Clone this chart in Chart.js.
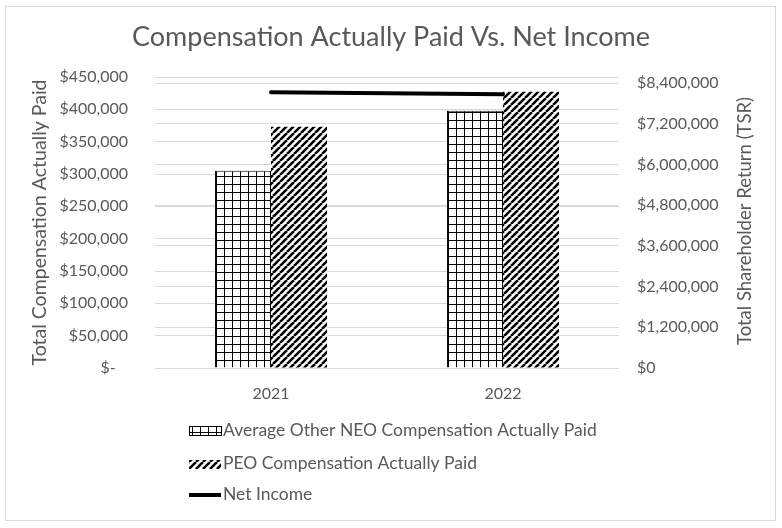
<!DOCTYPE html>
<html>
<head>
<meta charset="utf-8">
<script src="https://cdn.jsdelivr.net/npm/chart.js@4/dist/chart.umd.min.js"></script>
<style>
  html, body { margin: 0; padding: 0; background: #fff; }
  canvas { display: block; }
</style>
</head>
<body>
<canvas id="c" width="782" height="528"></canvas>
<script>
// ---- data ----
const categories = ['2021', '2022'];
const neoValues = [305000, 398000];        // Average Other NEO Compensation Actually Paid
const peoValues = [373000, 427000];        // PEO Compensation Actually Paid
const netIncomeValues = [8130000, 8070000]; // Net Income (right axis)
const leftTicks = [0, 50000, 100000, 150000, 200000, 250000, 300000, 350000, 400000, 450000];
const rightTicks = [0, 1200000, 2400000, 3600000, 4800000, 6000000, 7200000, 8400000];
const seriesLabels = ['Average Other NEO Compensation Actually Paid', 'PEO Compensation Actually Paid', 'Net Income'];

const FONT = 'Lato';
const TXT = '#595959';
const GRID = '#d9d9d9';

function makeGridPattern() {
  const c = document.createElement('canvas'); c.width = 8; c.height = 8;
  const g = c.getContext('2d');
  g.fillStyle = '#fff'; g.fillRect(0, 0, 8, 8);
  g.fillStyle = '#000'; g.fillRect(0, 0, 8, 1); g.fillRect(0, 0, 1, 8);
  return g.createPattern(c, 'repeat');
}
function makeHatchPattern() {
  const c = document.createElement('canvas'); c.width = 7; c.height = 7;
  const g = c.getContext('2d');
  g.fillStyle = '#fff'; g.fillRect(0, 0, 7, 7);
  g.strokeStyle = '#000'; g.lineWidth = 2.6;
  g.beginPath();
  for (let k = -14; k <= 14; k += 7) { g.moveTo(k, 7); g.lineTo(k + 7, 0); }
  g.stroke();
  return g.createPattern(c, 'repeat');
}
const gridPat = makeGridPattern();
const hatchPat = makeHatchPattern();

function fmtLeft(v) { return v === 0 ? '$-   ' : '$' + v.toLocaleString('en-US'); }
function fmtRight(v) { return '$' + v.toLocaleString('en-US'); }

const frame = {
  id: 'frame',
  beforeDraw(chart) {
    const ctx = chart.ctx;
    ctx.save();
    ctx.fillStyle = '#fff'; ctx.fillRect(0, 0, chart.width, chart.height);
    ctx.strokeStyle = GRID; ctx.lineWidth = 1;
    ctx.strokeRect(5.5, 6.5, 770, 514);
    ctx.restore();
  }
};

const extras = {
  id: 'extras',
  afterDraw(chart) {
    const ctx = chart.ctx;
    ctx.save();
    // right axis title (reads bottom-to-top)
    ctx.translate(745, 221);
    ctx.rotate(-Math.PI / 2);
    ctx.fillStyle = TXT;
    ctx.font = '18.5px ' + FONT;
    ctx.textAlign = 'center'; ctx.textBaseline = 'middle';
    ctx.fillText('Total Shareholder Return (TSR)', 0, 0);
    ctx.restore();

    // legend
    const ds = chart.data.datasets;
    const baselines = [436, 469, 500];
    const sx = 189, sw = 32, tx = 223;
    ctx.save();
    ctx.font = '17.5px ' + FONT;
    ctx.textBaseline = 'alphabetic';
    ds.forEach((d, i) => {
      const b = baselines[i];
      if (d.type === 'line') {
        ctx.strokeStyle = '#000'; ctx.lineWidth = 4; ctx.lineCap = 'butt';
        ctx.beginPath(); ctx.moveTo(sx, b - 5); ctx.lineTo(sx + sw, b - 5); ctx.stroke();
      } else {
        ctx.fillStyle = d.backgroundColor;
        ctx.fillRect(sx, b - 9, sw, 9);
        if (d.borderWidth) {
          ctx.strokeStyle = '#000'; ctx.lineWidth = 1;
          ctx.strokeRect(sx + 0.5, b - 9.5, sw, 9);
        }
      }
      ctx.fillStyle = TXT;
      ctx.fillText(d.label, tx, b);
    });
    ctx.restore();
  }
};

new Chart(document.getElementById('c'), {
  type: 'bar',
  data: {
    labels: categories,
    datasets: [
      { type: 'bar', label: seriesLabels[0], data: neoValues, yAxisID: 'y',
        backgroundColor: gridPat, borderColor: '#000', borderWidth: 1, order: 1 },
      { type: 'bar', label: seriesLabels[1], data: peoValues, yAxisID: 'y',
        backgroundColor: hatchPat, borderWidth: 0, order: 1 },
      { type: 'line', label: seriesLabels[2], data: netIncomeValues, yAxisID: 'y1',
        borderColor: '#000', backgroundColor: '#000', borderWidth: 4, pointRadius: 0,
        borderCapStyle: 'round', tension: 0, order: 0 }
    ]
  },
  options: {
    responsive: false,
    animation: false,
    devicePixelRatio: 1,
    layout: { padding: { left: 0, right: 0, top: 0, bottom: 0 } },
    datasets: { bar: { categoryPercentage: 0.483, barPercentage: 1 } },
    plugins: {
      legend: { display: false },
      tooltip: { enabled: false },
      title: {
        display: true,
        text: 'Compensation Actually Paid Vs. Net Income',
        color: TXT,
        font: { family: FONT, size: 27, weight: 'normal', lineHeight: 1.2 },
        padding: { top: 21, bottom: 23.6 }
      }
    },
    scales: {
      x: {
        grid: { display: false, drawTicks: false },
        border: { display: false },
        ticks: { color: TXT, font: { family: FONT, size: 16 }, padding: 16 },
        afterFit(s) { s.height = 160; }
      },
      y: {
        position: 'left',
        min: 0, max: 450000,
        afterBuildTicks(s) { s.ticks = leftTicks.map(v => ({ value: v })); },
        grid: { color: GRID, drawTicks: false },
        border: { display: false },
        ticks: { color: TXT, font: { family: FONT, size: 16 }, padding: 27, callback: v => fmtLeft(v) },
        title: { display: true, text: 'Total Compensation Actually Paid', color: TXT,
          font: { family: FONT, size: 19.5 }, padding: { top: 28, bottom: 0 } },
        afterFit(s) { s.width = 155; }
      },
      y1: {
        position: 'right',
        min: 0, max: 8577000,
        afterBuildTicks(s) { s.ticks = rightTicks.map(v => ({ value: v })); },
        grid: { color: GRID, drawTicks: false, drawOnChartArea: true },
        border: { display: false },
        ticks: { color: TXT, font: { family: FONT, size: 16 }, padding: 18, callback: v => fmtRight(v) },
        afterFit(s) { s.width = 163; }
      }
    }
  },
  plugins: [frame, extras]
});
</script>
</body>
</html>
